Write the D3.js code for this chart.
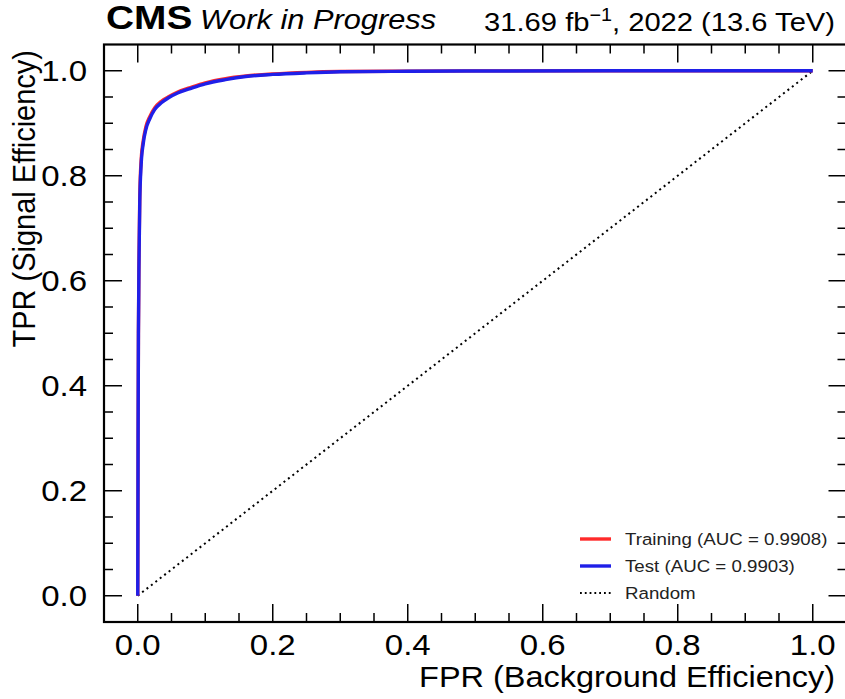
<!DOCTYPE html>
<html>
<head>
<meta charset="utf-8">
<script src="https://cdn.jsdelivr.net/npm/d3@7"></script>
<style>
  html, body { margin: 0; padding: 0; background: #fff; }
  svg { display: block; font-family: "Liberation Sans", Arial, Helvetica, sans-serif; }
</style>
</head>
<body>
<svg id="chart" width="845" height="699"></svg>
<script>
// ---- data ----
const fpr      = [0, 0.0005, 0.001, 0.002, 0.003, 0.005, 0.008, 0.012, 0.018, 0.025, 0.035, 0.045, 0.06, 0.08, 0.10, 0.13, 0.16, 0.20, 0.25, 0.30, 0.40, 0.50, 0.70, 1.0];
const tprTrain = [0, 0.30, 0.50, 0.66, 0.76, 0.83, 0.866, 0.893, 0.913, 0.929, 0.942, 0.950, 0.960, 0.969, 0.977, 0.985, 0.990, 0.994, 0.997, 0.9985, 0.9993, 0.9997, 1.0, 1.0];
const tprTest  = [0, 0.30, 0.50, 0.65, 0.75, 0.82, 0.860, 0.888, 0.909, 0.926, 0.939, 0.948, 0.958, 0.967, 0.975, 0.983, 0.989, 0.993, 0.996, 0.998, 0.999, 0.9995, 1.0, 1.0];
const randomLine = [0, 1];
const xTicks = [0.0, 0.2, 0.4, 0.6, 0.8, 1.0];
const yTicks = [0.0, 0.2, 0.4, 0.6, 0.8, 1.0];
const legendLabels = ["Training (AUC = 0.9908)", "Test (AUC = 0.9903)", "Random"];
const titleLeftBold = "CMS";
const titleLeftItalic = "Work in Progress";
const xLabel = "FPR (Background Efficiency)";
const yLabel = "TPR (Signal Efficiency)";

// ---- layout ----
const svg = d3.select("#chart");
const L = 104, R = 846.5, T = 44.5, B = 622;
const SX = 1.1; // horizontal text stretch
const x = d3.scaleLinear().domain([-0.05, 1.05]).range([L, R]);
const y = d3.scaleLinear().domain([-0.05, 1.05]).range([B, T]);

function txt(px, py, str, size, anchor, sx) {
  return svg.append("text")
    .attr("transform", `translate(${px},${py}) scale(${sx || SX},1)`)
    .attr("font-size", size)
    .attr("text-anchor", anchor)
    .attr("fill", "#000")
    .text(str);
}

// curves
svg.append("clipPath").attr("id", "clip").append("rect")
  .attr("x", L).attr("y", T).attr("width", R - L).attr("height", B - T);
const plot = svg.append("g").attr("clip-path", "url(#clip)");

const line = d3.line().x(d => x(d[0])).y(d => y(d[1])).curve(d3.curveMonotoneX);
const lineStraight = d3.line().x(d => x(d[0])).y(d => y(d[1]));
plot.append("path")
  .datum(randomLine.map(v => [v, v]))
  .attr("d", lineStraight).attr("fill", "none")
  .attr("stroke", "#000").attr("stroke-width", 2)
  .attr("stroke-dasharray", "2,3.6");
plot.append("path")
  .datum(fpr.map((f, i) => [f, tprTrain[i]]))
  .attr("d", line).attr("fill", "none")
  .attr("stroke", "#ff2a2a").attr("stroke-width", 3.4).attr("stroke-linejoin", "round");
plot.append("path")
  .datum(fpr.map((f, i) => [f, tprTest[i]]))
  .attr("d", line).attr("fill", "none")
  .attr("stroke", "#1f1fe8").attr("stroke-width", 3.4).attr("stroke-linejoin", "round");

// ticks (inward, all four sides)
const minorVals = d3.range(0, 21).map(i => +(i * 0.05).toFixed(2));
const tk = svg.append("g").attr("stroke", "#000").attr("stroke-width", 1.5);
minorVals.forEach(v => {
  const isMajor = Math.abs(v * 5 - Math.round(v * 5)) < 1e-6;
  const len = isMajor ? 18 : 9;
  const xv = x(v), yv = y(v);
  tk.append("line").attr("x1", xv).attr("x2", xv).attr("y1", B).attr("y2", B - len);
  tk.append("line").attr("x1", xv).attr("x2", xv).attr("y1", T).attr("y2", T + len);
  tk.append("line").attr("y1", yv).attr("y2", yv).attr("x1", L).attr("x2", L + len);
  tk.append("line").attr("y1", yv).attr("y2", yv).attr("x1", R).attr("x2", R - len);
});

// frame
svg.append("rect").attr("x", L).attr("y", T).attr("width", R - L).attr("height", B - T)
  .attr("fill", "none").attr("stroke", "#000").attr("stroke-width", 2.2);

// tick labels
xTicks.forEach(v => txt(x(v), 655, d3.format(".1f")(v), 30, "middle"));
yTicks.forEach(v => txt(87, y(v) + 10.5, d3.format(".1f")(v), 30, "end"));

// axis labels
txt(835, 687, xLabel, 29.5, "end");
svg.append("text")
  .attr("transform", `translate(35,50) scale(${SX},1) rotate(-90)`)
  .attr("font-size", 29).attr("text-anchor", "end").attr("fill", "#000")
  .text(yLabel);

// header
txt(106, 29, titleLeftBold, 33.5, "start", 1.16).attr("font-weight", "bold");
txt(200, 29, titleLeftItalic, 28, "start").attr("font-style", "italic");
const rt = svg.append("text")
  .attr("transform", `translate(835,31) scale(${SX},1)`)
  .attr("font-size", 26.5).attr("text-anchor", "end").attr("fill", "#000");
rt.append("tspan").text("31.69 fb");
rt.append("tspan").attr("font-size", 18).attr("dy", -10).text("\u22121");
rt.append("tspan").attr("dy", 10).text(", 2022 (13.6 TeV)");

// legend
const legColors = ["#ff2a2a", "#1f1fe8", "#000"];
const legY = [539, 566, 593];
legendLabels.forEach((lab, i) => {
  const ln = svg.append("line")
    .attr("x1", 580).attr("x2", 611).attr("y1", legY[i]).attr("y2", legY[i])
    .attr("stroke", legColors[i]).attr("stroke-width", i < 2 ? 3.4 : 1.8);
  if (i === 2) ln.attr("stroke-dasharray", "1.8,3");
  txt(625, legY[i] + 6, lab, 17, "start").attr("fill", "#222");
});
</script>
</body>
</html>
